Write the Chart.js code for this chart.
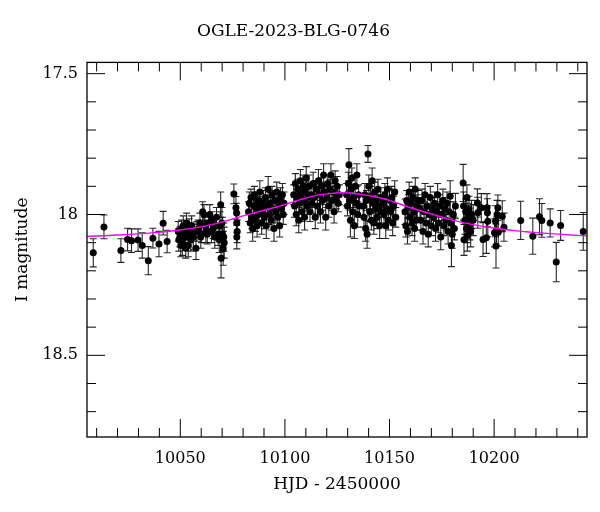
<!DOCTYPE html>
<html>
<head>
<meta charset="utf-8">
<script src="https://cdn.jsdelivr.net/npm/chart.js@4"></script>
<style>
body{margin:0;background:#fff}
</style>
</head>
<body>
<canvas id="grafico" width="600" height="512"></canvas>
<script>
// fechas HJD - 2450000 de cada medida
const hjd = [
  10008.4, 10013.5, 10021.6, 10024.8, 10026.7, 10029.8, 10031.8, 10034.7, 10036.9, 10039.8, 10041.8, 10043.7,
  10049.0, 10049.3, 10049.8, 10050.2, 10050.6, 10051.0, 10051.4, 10051.8, 10052.2, 10052.6,
  10053.0, 10053.4, 10053.8, 10054.2, 10054.6, 10055.0, 10055.4, 10055.8, 10056.2, 10057.5,
  10058.0, 10058.6, 10059.4, 10059.8, 10060.2, 10060.7, 10061.3, 10061.8, 10062.2, 10062.9,
  10063.5, 10064.1, 10064.9, 10065.2, 10065.7, 10066.5, 10067.0, 10067.3, 10068.1, 10068.6,
  10069.0, 10069.3, 10069.5, 10069.9, 10070.2, 10070.5, 10070.8, 10071.0,
  10075.6, 10076.6, 10076.9, 10077.0, 10077.2, 10077.0,
  10082.6, 10083.0, 10083.4, 10083.8, 10084.2, 10084.6, 10085.0, 10085.4, 10085.8, 10086.3,
  10086.7, 10087.1, 10087.5, 10088.0, 10088.4, 10088.9, 10089.3, 10089.8, 10090.2, 10090.7,
  10091.1, 10091.6, 10092.0, 10092.5, 10093.0, 10093.4, 10093.9, 10094.3, 10094.8, 10095.2,
  10095.7, 10096.1, 10096.6, 10097.0, 10097.5, 10097.9, 10098.4, 10098.8, 10099.2, 10099.6,
  10104.2, 10104.6, 10105.0, 10105.4, 10105.8, 10106.2, 10106.6, 10107.0, 10107.4, 10107.8,
  10108.2, 10108.6, 10109.0, 10109.4, 10109.8, 10110.2, 10110.6, 10111.0, 10111.5, 10112.0,
  10112.5, 10113.0, 10113.5, 10114.0, 10114.5, 10115.0, 10115.5, 10116.0, 10116.5, 10117.0,
  10117.5, 10118.0, 10118.5, 10119.0, 10119.5, 10120.0, 10120.5, 10121.0, 10121.5, 10122.0,
  10122.5, 10123.0, 10123.5, 10124.0, 10124.5, 10125.0, 10125.5, 10126.0,
  10129.5, 10129.9, 10130.3, 10130.6, 10131.0, 10131.3, 10131.7, 10132.0, 10132.4, 10132.8,
  10133.2, 10133.6, 10134.0, 10134.4, 10134.8, 10135.2, 10135.6,
  10139.7,
  10137.4, 10137.8, 10138.2, 10138.6, 10139.0, 10139.3, 10140.1, 10140.5, 10140.9, 10141.3,
  10141.7, 10142.1, 10142.5, 10142.9, 10143.3, 10143.7, 10144.1, 10144.5, 10144.9, 10145.3,
  10145.7, 10146.1,
  10147.0, 10147.4, 10147.8, 10148.2, 10148.6, 10149.0, 10149.5, 10150.0, 10150.5, 10151.0,
  10151.5, 10152.0, 10152.5, 10153.0,
  10157.4, 10157.8, 10158.2, 10158.6, 10159.0, 10159.4, 10159.8, 10160.3, 10160.8, 10161.3,
  10161.8, 10162.0, 10162.3, 10162.8, 10163.2, 10163.6,
  10164.6, 10165.0, 10165.5, 10166.0, 10166.5, 10167.0, 10167.5, 10168.0, 10168.5, 10169.0,
  10169.5, 10170.0, 10170.5, 10171.0, 10171.5, 10172.0, 10172.5, 10173.0, 10173.5, 10174.0,
  10174.5, 10175.0, 10175.5, 10176.0, 10176.5, 10177.0, 10177.5, 10178.0, 10178.5, 10179.0,
  10179.3, 10179.6, 10180.0, 10180.5, 10181.0, 10181.5,
  10185.2, 10185.4, 10185.6, 10186.0, 10186.4, 10186.8, 10187.0, 10187.2, 10187.6, 10188.0,
  10188.4, 10188.8, 10189.2, 10190.0,
  10192.0, 10192.2, 10193.9, 10194.7, 10196.3, 10196.6, 10196.8, 10197.0,
  10200.2, 10200.7, 10200.9, 10201.1, 10201.4, 10201.8, 10202.0, 10203.9, 10204.7,
  10212.7, 10218.5, 10221.7, 10222.8, 10226.8, 10229.7, 10231.8, 10242.6
];
// magnitud I de cada medida
const mag = [
  18.136, 18.044, 18.128, 18.089, 18.093, 18.091, 18.110, 18.164, 18.084, 18.105, 18.031, 18.096,
  18.06, 18.09, 18.08, 18.11, 18.05, 18.10, 18.04, 18.07, 18.08, 18.12,
  18.03, 18.06, 18.11, 18.05, 18.07, 18.09, 18.04, 18.06, 18.08, 18.12,
  18.06, 18.05, 18.03, 18.08, 18.07, 17.99, 18.00, 18.04, 18.06, 18.07,
  18.03, 18.00, 18.06, 18.02, 18.05, 18.08, 18.04, 18.01, 18.07, 18.09,
  18.04, 17.965, 18.155, 18.03, 18.07, 18.12, 18.08, 18.10,
  17.927, 17.976, 17.995, 18.03, 18.06, 18.08,
  17.99, 17.96, 18.03, 17.94, 18.01, 18.05, 17.97, 17.93, 18.02, 17.98,
  18.04, 17.95, 18.00, 17.92, 17.97, 18.03, 17.99, 17.95, 18.01, 17.94,
  18.04, 17.97, 17.91, 18.00, 17.96, 18.02, 17.93, 17.98, 18.05, 17.95,
  17.99, 17.92, 18.01, 17.96, 18.04, 17.94, 17.98, 17.93, 18.00, 17.96,
  17.93, 17.97, 17.89, 18.00, 17.94, 17.91, 18.02, 17.96, 17.88, 17.93,
  17.99, 17.90, 17.95, 18.01, 17.92, 17.87, 17.97, 17.94, 17.90, 17.99,
  17.93, 17.96, 17.89, 17.94, 18.01, 17.91, 17.97, 17.88, 17.93, 17.99,
  17.90, 17.95, 17.86, 17.92, 18.01, 17.94, 17.89, 17.97, 17.91, 17.86,
  17.95, 17.92, 17.99, 17.88, 17.94, 17.90, 17.96, 17.93,
  17.93, 17.97, 17.89, 17.823, 17.95, 18.02, 17.91, 17.87, 17.99, 17.94,
  18.04, 17.90, 17.96, 17.86, 18.00, 17.93, 17.97,
  17.785,
  17.97, 18.01, 17.93, 18.05, 17.95, 18.07, 17.90, 17.99, 17.94, 18.02,
  17.88, 17.96, 18.03, 17.92, 17.98, 17.95, 18.01, 17.91, 17.97, 18.04,
  17.94, 17.99,
  17.96, 18.00, 17.93, 18.04, 17.98, 17.91, 18.02, 17.95, 17.99, 17.94,
  18.03, 17.97, 17.92, 18.01,
  17.99, 18.04, 17.95, 18.06, 17.97, 17.92, 18.01, 17.96, 18.03, 17.94,
  17.99, 18.05, 17.91, 18.02, 17.97, 17.95,
  17.98, 18.02, 17.95, 18.06, 17.99, 17.93, 18.03, 17.97, 18.07, 18.00,
  17.94, 18.04, 17.98, 18.01, 17.96, 18.05, 17.99, 17.93, 18.03, 17.97,
  18.08, 18.00, 17.95, 18.04, 17.98, 18.02, 17.96, 18.06, 17.99, 17.935,
  18.03, 18.11, 18.07, 18.00, 18.05, 17.97,
  17.888, 17.97, 18.09, 18.02, 17.99, 18.05, 17.94, 18.075, 18.01, 17.98,
  18.04, 18.06, 18.00, 18.02,
  17.959, 17.994, 17.976, 18.089, 18.083, 17.976, 17.994, 18.024,
  18.065, 18.024, 18.112, 18.059, 18.000, 17.976, 18.063, 18.006, 18.045,
  18.021, 18.077, 18.008, 18.021, 18.030, 18.169, 18.039, 18.060
];
// error de cada medida
const err = [
  .050, .042, .042, .040, .042, .040, .045, .050, .035, .045, .042, .040,
  .035, .040, .035, .040, .030, .045, .035, .030, .040, .035,
  .035, .030, .040, .035, .030, .040, .035, .030, .045, .040,
  .035, .030, .035, .040, .030, .035, .035, .030, .040, .035,
  .030, .035, .040, .030, .035, .040, .030, .035, .040, .045,
  .050, .045, .070, .055, .060, .060, .050, .055,
  .035, .040, .035, .035, .040, .042,
  .035, .040, .035, .030, .040, .045, .035, .030, .040, .035,
  .040, .030, .035, .040, .035, .040, .030, .035, .040, .035,
  .045, .030, .045, .035, .040, .035, .030, .035, .045, .035,
  .040, .035, .030, .035, .040, .035, .030, .040, .035, .040,
  .035, .040, .035, .040, .030, .035, .045, .035, .040, .030,
  .035, .040, .035, .045, .035, .040, .030, .035, .040, .035,
  .030, .035, .040, .035, .040, .030, .035, .040, .035, .040,
  .030, .035, .040, .035, .045, .035, .030, .040, .035, .040,
  .035, .030, .040, .035, .040, .035, .030, .035,
  .040, .035, .040, .057, .035, .060, .040, .035, .040, .035,
  .045, .040, .035, .040, .045, .035, .040,
  .030,
  .040, .035, .040, .045, .035, .050, .040, .035, .040, .035,
  .045, .035, .040, .035, .040, .035, .040, .035, .040, .045,
  .035, .040,
  .040, .035, .040, .045, .035, .040, .035, .040, .035, .040,
  .045, .035, .040, .035,
  .045, .040, .035, .045, .040, .035, .040, .035, .045, .040,
  .035, .045, .040, .035, .040, .035,
  .040, .035, .040, .045, .035, .040, .035, .040, .045, .035,
  .040, .035, .040, .035, .040, .045, .035, .040, .035, .040,
  .045, .035, .040, .035, .040, .035, .040, .045, .035, .055,
  .040, .075, .050, .045, .040, .045,
  .066, .050, .055, .050, .045, .050, .045, .055, .050, .045,
  .050, .055, .050, .055,
  .050, .055, .050, .060, .055, .050, .050, .055,
  .050, .055, .078, .050, .050, .045, .050, .055, .050,
  .068, .064, .064, .060, .050, .070, .053, .067
];
// curva del modelo
const modeloT = [10005.4, 10020, 10035, 10050, 10060, 10070, 10080, 10090, 10100, 10107, 10115, 10121, 10127,
  10135, 10143, 10150, 10160, 10170, 10180, 10190, 10200, 10212, 10225, 10235, 10244.4];
const modeloMag = [18.078, 18.073, 18.066, 18.055, 18.044, 18.027, 18.005, 17.985, 17.965, 17.948, 17.932, 17.926, 17.923,
  17.927, 17.937, 17.950, 17.976, 17.998, 18.020, 18.036, 18.048, 18.059, 18.067, 18.072, 18.076];
// marcas con etiqueta
const xEtiquetas = [10050, 10100, 10150, 10200];
const yEtiquetas = [17.5, 18, 18.5];

const fuente = "'DejaVu Serif', serif";

function esMayorY(v) {
  return yEtiquetas.some(e => Math.abs(e - v) < 1e-6);
}

// barras de error y marcas hacia dentro
const barras = {
  id: 'barras',
  beforeDatasetsDraw(chart) {
    const ctx = chart.ctx, sx = chart.scales.x, sy = chart.scales.y, a = chart.chartArea;
    ctx.save();
    ctx.beginPath();
    ctx.rect(a.left, a.top, a.right - a.left, a.bottom - a.top);
    ctx.clip();
    ctx.strokeStyle = 'rgba(0,0,0,0.85)';
    ctx.lineWidth = 1.1;
    for (let i = 0; i < hjd.length; i++) {
      const px = sx.getPixelForValue(hjd[i]);
      const y1 = sy.getPixelForValue(mag[i] - err[i]);
      const y2 = sy.getPixelForValue(mag[i] + err[i]);
      ctx.beginPath();
      ctx.moveTo(px, y1); ctx.lineTo(px, y2);
      ctx.moveTo(px - 3.5, y1); ctx.lineTo(px + 3.5, y1);
      ctx.moveTo(px - 3.5, y2); ctx.lineTo(px + 3.5, y2);
      ctx.stroke();
    }
    ctx.restore();
  },
  afterDraw(chart) {
    const ctx = chart.ctx, sx = chart.scales.x, sy = chart.scales.y, a = chart.chartArea;
    ctx.save();
    ctx.strokeStyle = '#000';
    ctx.lineWidth = 1.3;
    ctx.strokeRect(a.left, a.top, a.right - a.left, a.bottom - a.top);
    ctx.lineWidth = 1;
    ctx.beginPath();
    sx.ticks.forEach(t => {
      const px = sx.getPixelForValue(t.value);
      const l = xEtiquetas.includes(t.value) ? 18 : 9;
      ctx.moveTo(px, a.bottom); ctx.lineTo(px, a.bottom - l);
      ctx.moveTo(px, a.top); ctx.lineTo(px, a.top + l);
    });
    sy.ticks.forEach(t => {
      const py = sy.getPixelForValue(t.value);
      const l = esMayorY(t.value) ? 18 : 9;
      ctx.moveTo(a.left, py); ctx.lineTo(a.left + l, py);
      ctx.moveTo(a.right, py); ctx.lineTo(a.right - l, py);
    });
    ctx.stroke();
    ctx.restore();
  }
};

const puntos = hjd.map((t, i) => ({x: t, y: mag[i]}));
const modelo = modeloT.map((t, i) => ({x: t, y: modeloMag[i]}));

const myChart = new Chart("grafico", {
  type: "scatter",
  data: {
    datasets: [{
      label: "modelo",
      data: modelo,
      showLine: true,
      borderColor: "#ff00ff",
      borderWidth: 1.4,
      pointRadius: 0,
      tension: 0.4,
      order: 0
    }, {
      label: "datos",
      data: puntos,
      backgroundColor: "#000",
      borderColor: "#000",
      pointRadius: 3.5,
      borderWidth: 0,
      order: 1
    }]
  },
  options: {
    responsive: false,
    animation: false,
    layout: {padding: {left: 0, right: 13, top: 0, bottom: 0}},
    plugins: {
      legend: {display: false},
      tooltip: {enabled: false},
      title: {
        display: true,
        text: "OGLE-2023-BLG-0746",
        color: "#000",
        font: {family: fuente, size: 17, weight: "normal"},
        padding: {top: 21, bottom: 21}
      }
    },
    scales: {
      x: {
        type: "linear",
        min: 10005.4,
        max: 10244.4,
        afterFit(s) { s.height = 75; },
        grid: {display: false, drawTicks: false},
        border: {display: false},
        ticks: {
          stepSize: 10,
          includeBounds: false,
          autoSkip: false,
          maxRotation: 0,
          padding: 12,
          color: "#000",
          font: {family: fuente, size: 16},
          callback: v => xEtiquetas.includes(v) ? String(v) : ""
        },
        title: {
          display: true,
          text: "HJD - 2450000",
          color: "#000",
          font: {family: fuente, size: 17},
          padding: {top: 0, bottom: 17}
        }
      },
      y: {
        type: "linear",
        reverse: true,
        min: 17.46,
        max: 18.79,
        afterFit(s) { s.width = 87; },
        grid: {display: false, drawTicks: false},
        border: {display: false},
        ticks: {
          stepSize: 0.1,
          includeBounds: false,
          autoSkip: false,
          padding: 9,
          color: "#000",
          font: {family: fuente, size: 16},
          callback: v => esMayorY(v) ? String(Math.round(v * 10) / 10) : ""
        },
        title: {
          display: true,
          text: "I magnitude",
          color: "#000",
          font: {family: fuente, size: 17},
          padding: {top: 12, bottom: 0}
        }
      }
    }
  },
  plugins: [barras]
});
</script>
</body>
</html>
